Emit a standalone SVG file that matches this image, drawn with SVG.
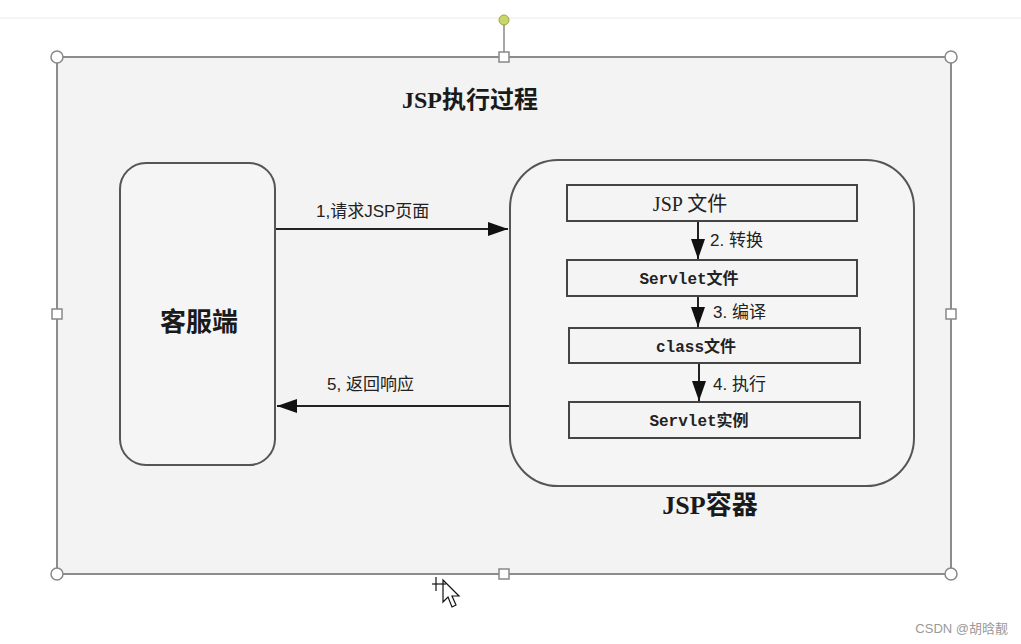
<svg xmlns="http://www.w3.org/2000/svg" width="1021" height="644" viewBox="0 0 1021 644">
<defs>
<marker id="ahL" viewBox="0 0 10 10" refX="10" refY="5" markerWidth="20" markerHeight="14" markerUnits="userSpaceOnUse" orient="auto" preserveAspectRatio="none">
<path d="M0,0 L10,5 L0,10 z" fill="#111"/>
</marker>
<style>
.frame{fill:#f3f3f3;stroke:#8c8c8c;stroke-width:2}
.node{fill:#f5f5f5;stroke:#555;stroke-width:2}
.box{fill:#f4f4f4;stroke:#444;stroke-width:2}
.conn{stroke:#222;stroke-width:2;fill:none}
.hc{fill:#fff;stroke:#888;stroke-width:1.5}
.hs{fill:#fff;stroke:#888;stroke-width:1.5}
.tb{font-family:"Liberation Serif","Noto Sans CJK SC",serif;font-weight:bold;fill:#1a1a1a;text-anchor:middle}
.tm{font-family:"Liberation Mono","Noto Sans CJK SC",monospace;font-size:16px;font-weight:bold;fill:#222;text-anchor:middle}
.tl{font-family:"Liberation Sans","Noto Sans CJK SC",sans-serif;font-size:17px;fill:#222}
</style>
</defs>
<rect x="0" y="0" width="1021" height="644" fill="#fff"/>
<line x1="0" y1="18" x2="1021" y2="18" stroke="#e8e8e8" stroke-width="1"/>

<g id="frame">
<rect class="frame" x="57" y="57" width="894" height="517"/>
<line x1="504" y1="22" x2="504" y2="57" stroke="#888" stroke-width="1.5"/>
<circle cx="504" cy="20" r="5" fill="#c8d66a" stroke="#9aa840" stroke-width="1"/>
<circle class="hc" cx="57" cy="57" r="6"/>
<circle class="hc" cx="951" cy="57" r="6"/>
<circle class="hc" cx="57" cy="574" r="6"/>
<circle class="hc" cx="951" cy="574" r="6"/>
<rect class="hs" x="499" y="52" width="10" height="10"/>
<rect class="hs" x="499" y="569" width="10" height="10"/>
<rect class="hs" x="52" y="309" width="10" height="10"/>
<rect class="hs" x="946" y="309" width="10" height="10"/>
</g>

<g id="title"><text class="tb" x="470" y="108" font-size="24">JSP执行过程</text></g>

<g id="client">
<rect class="node" x="120" y="163" width="155" height="302" rx="26" ry="26"/>
<text class="tb" x="199" y="331" font-size="26">客服端</text>
</g>

<g id="container">
<rect class="node" x="510" y="160" width="404" height="326" rx="48" ry="48"/>
<text class="tb" x="710" y="514" font-size="26">JSP容器</text>
</g>

<g id="jspfile">
<rect class="box" x="567" y="185" width="290" height="36"/>
<text x="690" y="211" text-anchor="middle" font-family="'Liberation Serif','Noto Sans CJK SC',serif" font-size="20" fill="#222">JSP 文件</text>
</g>
<g id="servletfile">
<rect class="box" x="567" y="260" width="290" height="36"/>
<text class="tm" x="689" y="284">Servlet文件</text>
</g>
<g id="classfile">
<rect class="box" x="569" y="328" width="291" height="35"/>
<text class="tm" x="696" y="352">class文件</text>
</g>
<g id="servletinst">
<rect class="box" x="569" y="402" width="291" height="36"/>
<text class="tm" x="699" y="426">Servlet实例</text>
</g>

<g id="connectors">
<line class="conn" x1="276" y1="229" x2="508" y2="229" marker-end="url(#ahL)"/>
<text class="tl" x="316" y="217">1,请求JSP页面</text>
<line class="conn" x1="509" y1="406" x2="277" y2="406" marker-end="url(#ahL)"/>
<text class="tl" x="327" y="390">5, 返回响应</text>
<line class="conn" x1="698" y1="222" x2="698" y2="259" marker-end="url(#ahL)"/>
<text class="tl" x="710" y="246">2. 转换</text>
<line class="conn" x1="698" y1="297" x2="698" y2="327" marker-end="url(#ahL)"/>
<text class="tl" x="713" y="318">3. 编译</text>
<line class="conn" x1="699" y1="364" x2="699" y2="401" marker-end="url(#ahL)"/>
<text class="tl" x="713" y="390">4. 执行</text>
</g>

<g id="cursor">
<path d="M443,580 L443,602 L448,597 L452,607 L456,605 L452,596 L459,596 z" fill="#fff" stroke="#111" stroke-width="1.2"/>
<line x1="432" y1="584" x2="446" y2="584" stroke="#111" stroke-width="1.2"/>
<line x1="436" y1="577" x2="436" y2="591" stroke="#111" stroke-width="1.2"/>
</g>

<text x="1008" y="633" text-anchor="end" font-family="'Liberation Sans','Noto Sans CJK SC',sans-serif" font-size="13" fill="#999">CSDN @胡晗靓</text>
</svg>
